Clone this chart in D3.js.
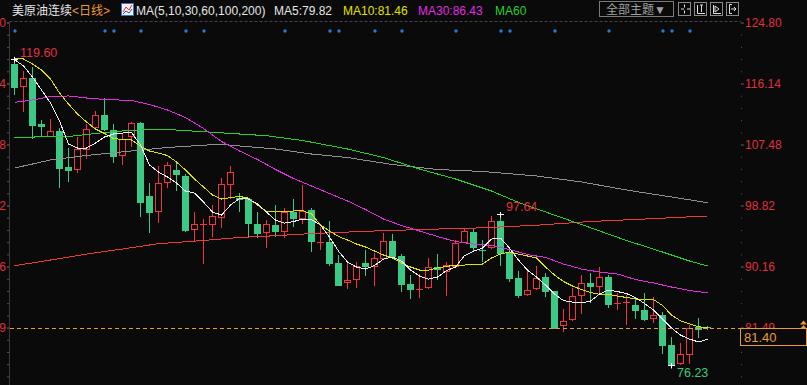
<!DOCTYPE html>
<html>
<head>
<meta charset="utf-8">
<script src="https://cdn.jsdelivr.net/npm/d3@7/dist/d3.min.js"></script>
<style>
  body { margin: 0; background: #0a0a0a; }
  svg { display: block; font-family: "Liberation Sans", Arial, "Noto Sans CJK SC", sans-serif; }
</style>
</head>
<body>
<svg id="kline" width="807" height="385"></svg>
<script>
//// daily bars
var opens = [118.91,115.83,116.92,110.39,108.73,109.39,104.32,103.95,106.88,110.00,
  111.66,109.54,105.94,108.68,110.57,100.16,98.08,102.11,103.86,103.00,
  95.43,96.19,96.14,97.14,101.82,99.92,99.74,96.19,95.01,96.00,
  95.24,97.89,97.08,98.18,93.67,93.63,90.61,87.91,88.33,90.61,
  90.27,91.32,93.77,91.64,87.67,86.96,87.20,90.04,89.51,90.22,
  93.67,95.10,92.56,92.88,96.61,92.25,88.57,86.20,87.14,88.62,
  86.67,81.80,82.65,86.06,87.77,87.43,88.62,85.01,85.15,84.68,
  83.99,82.88,83.26,79.00,76.40,77.77,81.60,81.50];
var highs = [119.60,117.96,118.52,110.96,111.10,109.82,106.94,108.50,110.39,112.19,
  114.04,110.39,109.07,110.71,110.71,101.97,104.42,104.95,105.03,103.29,
  97.89,96.90,98.88,102.68,104.42,100.55,99.80,97.89,96.75,98.88,
  98.42,99.69,101.72,98.42,95.72,96.65,91.78,90.69,90.75,92.51,
  92.11,94.95,94.72,91.93,88.94,89.09,91.32,91.93,90.83,93.93,
  95.66,95.44,93.93,97.32,97.64,92.50,89.56,89.56,90.22,89.27,
  86.70,84.07,87.06,88.94,89.19,90.04,88.90,86.43,86.10,85.49,
  86.43,85.78,83.73,80.10,79.25,81.80,82.80,81.70];
var lows = [114.60,112.28,108.36,108.73,108.65,101.48,102.34,103.61,105.60,109.63,
  109.53,105.03,104.66,107.31,97.37,95.09,96.51,101.48,101.02,95.20,
  93.77,90.61,94.53,95.80,99.84,98.03,94.48,94.30,92.96,94.53,
  94.30,95.90,96.37,92.40,92.59,90.36,87.50,87.06,87.20,88.94,
  87.52,91.30,91.50,86.72,85.64,85.86,87.10,88.33,86.10,90.10,
  93.60,92.51,90.98,92.80,90.36,88.14,85.86,86.10,87.00,85.96,
  81.40,81.04,82.60,83.59,85.15,86.43,84.44,84.07,81.99,82.80,
  82.60,82.32,77.91,76.23,76.35,76.49,80.10,81.30];
var closes = [115.68,116.92,110.29,110.10,109.39,104.18,103.86,106.79,109.63,111.62,
  109.63,105.84,108.21,110.57,99.35,97.93,101.97,104.52,103.29,95.35,
  96.14,96.20,97.32,101.82,103.53,99.69,96.37,94.87,96.14,95.24,
  97.89,97.08,97.99,93.82,93.68,90.69,87.57,88.24,90.22,90.27,
  91.32,93.77,91.69,87.67,86.96,86.97,90.04,89.76,90.32,93.45,
  95.15,92.88,92.48,96.66,92.11,88.48,86.10,86.83,88.57,86.72,
  81.46,82.41,85.96,87.77,87.43,88.62,84.83,85.02,85.16,83.99,
  82.65,83.22,79.00,76.30,77.68,81.46,81.24,81.40];

// moving averages as drawn (one value per bar)
var ma5 = [119.55,118.62,117.06,115.22,113.37,110.82,107.55,106.98,106.98,107.69,
  108.54,108.97,109.11,109.18,107.41,104.57,103.57,102.86,102.01,100.87,
  100.59,99.31,97.89,97.47,98.88,99.81,99.74,99.03,97.89,96.75,
  96.33,96.54,96.90,96.83,96.04,94.34,92.35,90.79,90.08,89.80,
  90.29,91.22,91.50,90.93,89.65,88.80,88.38,88.66,89.58,90.08,
  91.71,92.35,92.78,94.06,94.20,92.78,91.07,89.65,88.66,87.52,
  86.25,85.32,85.11,85.01,85.25,86.25,86.82,86.60,86.32,85.75,
  84.90,83.98,82.70,81.42,80.42,79.86,79.45,79.82];
var ma10 = [119.62,119.62,118.91,118.06,116.78,114.79,113.23,111.81,110.67,109.68,
  109.04,108.33,108.19,108.12,107.26,106.55,106.27,105.91,104.99,103.86,
  102.58,101.44,100.31,99.74,99.95,100.10,99.88,98.88,97.97,97.89,
  97.97,98.04,98.11,97.61,96.04,95.20,94.42,93.92,93.35,92.93,
  92.36,91.79,91.37,90.66,90.09,89.66,89.66,89.95,90.16,90.37,
  90.37,90.44,90.51,91.37,91.93,92.22,91.93,91.65,91.37,90.09,
  88.95,88.03,87.39,86.89,86.47,86.21,86.21,85.97,85.76,85.55,
  85.40,85.47,84.62,83.27,82.46,82.04,81.61,81.46];
// slower averages, [bar index, value]
var ma30 = [[0,113.47],[2,113.80],[4,114.29],[6,114.37],[8,114.08],[10,113.87],[13,113.73],
  [15,113.16],[17,112.38],[19,111.31],[21,109.75],[23,107.91],[25,106.56],[27,105.35],
  [29,103.93],[31,102.65],[33,101.59],[35,100.52],[37,99.46],[39,98.25],[41,96.90],
  [43,95.98],[45,95.20],[47,94.42],[49,93.71],[51,93.35],[53,93.14],[55,92.57],
  [57,91.86],[59,91.44],[61,90.51],[63,89.80],[65,89.38],[67,89.09],[69,88.31],
  [71,87.82],[73,87.25],[75,86.75],[77,86.43]];
var ma60 = [[0,108.50],[6,108.62],[10,109.18],[13,109.51],[17,109.61],[21,109.30],[25,108.97],
  [28,108.73],[32,108.05],[37,106.84],[41,105.63],[45,104.00],[49,102.58],[53,100.88],
  [56,99.25],[59,97.90],[63,96.12],[68,93.85],[72,92.22],[75,90.94],[77,90.23]];
var ma100 = [[0,104.14],[4,105.28],[8,105.92],[13,106.56],[17,107.05],[21,107.38],[23,107.51],
  [25,107.27],[29,106.84],[33,106.13],[37,105.63],[42,104.64],[47,103.93],[52,103.65],
  [58,103.01],[63,102.16],[68,101.02],[73,100.03],[77,99.22]];
var ma200 = [[0,90.27],[4,91.08],[8,91.93],[12,92.64],[16,93.40],[21,93.85],[25,94.28],
  [29,94.53],[33,94.84],[40,95.20],[46,95.44],[52,95.65],[58,96.02],[64,96.55],
  [70,96.90],[77,97.33]];

var tickVals = [124.80, 116.14, 107.48, 98.82, 90.16, 81.49];
var newsDays = [0,10,11,14,19,21,30,35,36,40,43,49,54,55,60,66,72,73,75];
var markHigh = [0, 54];
var markLow = [73];
var lastPrice = 81.40;

//// parameters
var svg = d3.select("svg#kline");
var width = +svg.attr("width"),
    height = +svg.attr("height"),
    plotTop = 22.5,
    axisL = 9.5,
    axisR = 741;

var bg = "#0a0a0a",
    red = "#f5323f",
    green = "#3cc985",
    orange = "#e99a3c",
    axisRed = "#e0303c";

var x = d3.scaleLinear()
          .domain([0, closes.length - 1])
          .range([14.5, 14.5 + 9 * (closes.length - 1)]);
var y = d3.scaleLinear()
          .domain([81.49, 124.80])
          .range([327.57, plotTop]);

svg.append("rect").attr("width", width).attr("height", height).attr("fill", bg);

// top border dashed
svg.append("line")
   .attr("x1", axisL).attr("x2", axisR)
   .attr("y1", 21.5).attr("y2", 21.5)
   .attr("stroke", "#444").attr("stroke-dasharray", "3,2");

// left axis line
svg.append("line")
   .attr("x1", axisL).attr("x2", axisL)
   .attr("y1", 22).attr("y2", height)
   .attr("stroke", "#3a3a3a");

// minor ticks (5 per major step)
var step = (tickVals[0] - tickVals[tickVals.length - 1]) / 25;
var minor = d3.range(0, 40).map(function(k) { return tickVals[0] - k * step; })
              .filter(function(v) { return y(v) < height; });

var minorR = svg.append("g").attr("transform", "translate(" + axisR + ",0)")
   .call(d3.axisRight(y).tickValues(minor).tickSize(1).tickFormat(""));
var minorL = svg.append("g").attr("transform", "translate(9,0)")
   .call(d3.axisLeft(y).tickValues(minor).tickSize(2).tickFormat(""));
[minorR, minorL].forEach(function(g) {
    g.select(".domain").remove();
    g.selectAll("line").attr("stroke", "#555");
});

// major labels, right and left (left ones run off the edge)
var yR = svg.append("g").attr("transform", "translate(" + axisR + ",0)")
   .call(d3.axisRight(y).tickValues(tickVals).tickSize(3).tickPadding(1)
           .tickFormat(d3.format(".2f")));
var yL = svg.append("g").attr("transform", "translate(9,0)")
   .call(d3.axisLeft(y).tickValues(tickVals).tickSize(2).tickPadding(1)
           .tickFormat(d3.format(".2f")));
[yR, yL].forEach(function(g) {
    g.select(".domain").remove();
    g.selectAll("line").attr("stroke", "#555");
    g.selectAll("text").attr("fill", axisRed).attr("font-size", 12)
     .attr("font-family", "Liberation Sans, Arial, sans-serif");
});

// news markers
svg.selectAll("circle.news")
   .data(newsDays)
   .enter().append("circle")
   .attr("class", "news")
   .attr("cx", function(d) { return x(d) + 0.5; })
   .attr("cy", 31)
   .attr("r", 1.7)
   .attr("fill", "#1f7fd8");

// candles
var kData = closes.map(function(c, i) {
    return {i: i, o: opens[i], h: highs[i], l: lows[i], c: c};
});
var k = svg.append("g").selectAll("g.k")
           .data(kData)
           .enter().append("g").attr("class", "k");

k.each(function(d) {
    var g = d3.select(this),
        up = d.c >= d.o,
        col = up ? red : green,
        cx = x(d.i),
        t = Math.round(y(Math.max(d.o, d.c))),
        b = Math.round(y(Math.min(d.o, d.c)));
    g.append("line")
     .attr("x1", cx).attr("x2", cx)
     .attr("y1", Math.round(y(d.h))).attr("y2", Math.round(y(d.l)) + 1)
     .attr("stroke", col);
    if (Math.abs(y(d.o) - y(d.c)) < 1.5) {
        g.append("line")
         .attr("x1", cx - 3.5).attr("x2", cx + 3.5)
         .attr("y1", t + 0.5).attr("y2", t + 0.5)
         .attr("stroke", col);
    } else if (up) {
        g.append("rect")
         .attr("x", cx - 3).attr("y", t + 0.5)
         .attr("width", 6).attr("height", b - t)
         .attr("fill", bg).attr("stroke", red);
    } else {
        g.append("rect")
         .attr("x", cx - 3.5).attr("y", t)
         .attr("width", 7).attr("height", b - t + 1)
         .attr("fill", green);
    }
});

// moving average lines
var lineIdx = d3.line()
    .x(function(d, i) { return x(i); })
    .y(function(d) { return y(d); });
var linePair = d3.line()
    .x(function(d) { return x(d[0]); })
    .y(function(d) { return y(d[1]); });

var maLines = [
    {data: ma200, fn: linePair, color: "#f03a3a"},
    {data: ma100, fn: linePair, color: "#909090"},
    {data: ma60, fn: linePair, color: "#2ad02a"},
    {data: ma30, fn: linePair, color: "#e02ee0"},
    {data: ma10, fn: lineIdx, color: "#e2e200"},
    {data: ma5, fn: lineIdx, color: "#f0f0f0"}
];
svg.append("g").selectAll("path")
   .data(maLines)
   .enter().append("path")
   .attr("d", function(d) { return d.fn(d.data); })
   .attr("fill", "none")
   .attr("stroke", function(d) { return d.color; })
   .attr("stroke-width", 1)
   .attr("shape-rendering", "crispEdges");

// high / low marks
function cross(i, v) {
    var cx = x(i), cy = Math.round(y(v)) + 0.5;
    svg.append("path")
       .attr("d", "M" + (cx - 3.5) + "," + cy + "H" + (cx + 3.5) +
                  "M" + cx + "," + (cy - 2.5) + "V" + (cy + 3))
       .attr("stroke", "#ffffff").attr("fill", "none");
}
markHigh.forEach(function(i) {
    cross(i, highs[i]);
    svg.append("text")
       .attr("x", x(i) + 5.5).attr("y", y(highs[i]) - 7)
       .attr("dy", "0.35em")
       .attr("fill", axisRed).attr("font-size", 12.5)
       .text(d3.format(".2f")(highs[i]));
});
markLow.forEach(function(i) {
    cross(i, lows[i]);
    svg.append("text")
       .attr("x", x(i) + 5.5).attr("y", y(lows[i]) + 8)
       .attr("dy", "0.35em")
       .attr("fill", green).attr("font-size", 12.5)
       .text(d3.format(".2f")(lows[i]));
});

// last price line and box
var ly = Math.round(y(lastPrice)) + 0.5;
svg.append("line")
   .attr("x1", 10).attr("x2", axisR - 1)
   .attr("y1", ly).attr("y2", ly)
   .attr("stroke", orange).attr("stroke-dasharray", "4,3");
svg.append("rect")
   .attr("x", axisR - 0.5).attr("y", ly)
   .attr("width", 66).attr("height", 17)
   .attr("fill", bg).attr("stroke", orange);
svg.append("text")
   .attr("x", axisR + 3).attr("y", ly + 13.5)
   .attr("fill", orange).attr("font-size", 13)
   .text(d3.format(".2f")(lastPrice));
svg.append("path")
   .attr("d", "M800,324.5L803.5,320.5L807,324.5ZM800,329L803.5,325L807,329Z")
   .attr("fill", orange);

// header
var head = svg.append("text").attr("y", 14.5).attr("font-size", 12);
head.append("tspan").attr("x", 12).attr("fill", "#e6e6e6").text("美原油连续");
head.append("tspan").attr("x", 72).attr("fill", orange).text("<日线>");

var legend = [
    {x: 136, text: "MA(5,10,30,60,100,200)", color: "#e6e6e6"},
    {x: 274, text: "MA5:79.82", color: "#e6e6e6"},
    {x: 343, text: "MA10:81.46", color: "#e2e200"},
    {x: 418, text: "MA30:86.43", color: "#e02ee0"},
    {x: 495, text: "MA60", color: "#2ad02a"}
];
svg.selectAll("text.legend")
   .data(legend)
   .enter().append("text")
   .attr("class", "legend")
   .attr("x", function(d) { return d.x; })
   .attr("y", 14.5)
   .attr("font-size", 12)
   .attr("fill", function(d) { return d.color; })
   .text(function(d) { return d.text; });

// little chart icon
svg.append("rect").attr("x", 121.5).attr("y", 3.5).attr("width", 12).attr("height", 12)
   .attr("fill", "#f2f2f2").attr("stroke", "#3a6fd0");
svg.append("polyline").attr("points", "123,12 126,7 129,10 132,5")
   .attr("fill", "none").attr("stroke", "#e03030");
svg.append("polyline").attr("points", "123,14 126,11 129,13 132,9")
   .attr("fill", "none").attr("stroke", "#2050c0");

// theme button and tool icons
svg.append("rect").attr("x", 599.5).attr("y", 1.5).attr("width", 74).attr("height", 15)
   .attr("fill", "none").attr("stroke", "#7a7a7a");
svg.append("text").attr("x", 606).attr("y", 13.5).attr("font-size", 12)
   .attr("fill", "#a0a0a0").text("全部主题▼");

var tools = [678.5, 694.5, 710.5, 726.5];
svg.selectAll("rect.tool")
   .data(tools)
   .enter().append("rect")
   .attr("class", "tool")
   .attr("x", function(d) { return d; }).attr("y", 2.5)
   .attr("width", 12).attr("height", 13)
   .attr("fill", "none").attr("stroke", "#8a8a8a");
var glyphs = [
    "M681,9H684M687,9H690M684.5,4.5V7.5M684.5,10.5V13.5",
    "M697.5,5V13.5H705M700,5H703M701.5,5V12",
    "M713.5,5V13.5H721M715,6L719,9L715,12Z",
    "M729.5,4.5V13.5M729.5,4.5H732M729.5,13.5H732M731,9H736M734,7L736,9L734,11"
];
svg.selectAll("path.glyph")
   .data(glyphs)
   .enter().append("path")
   .attr("class", "glyph")
   .attr("d", function(d) { return d; })
   .attr("fill", "none").attr("stroke", "#e0e0e0");
</script>
</body>
</html>
